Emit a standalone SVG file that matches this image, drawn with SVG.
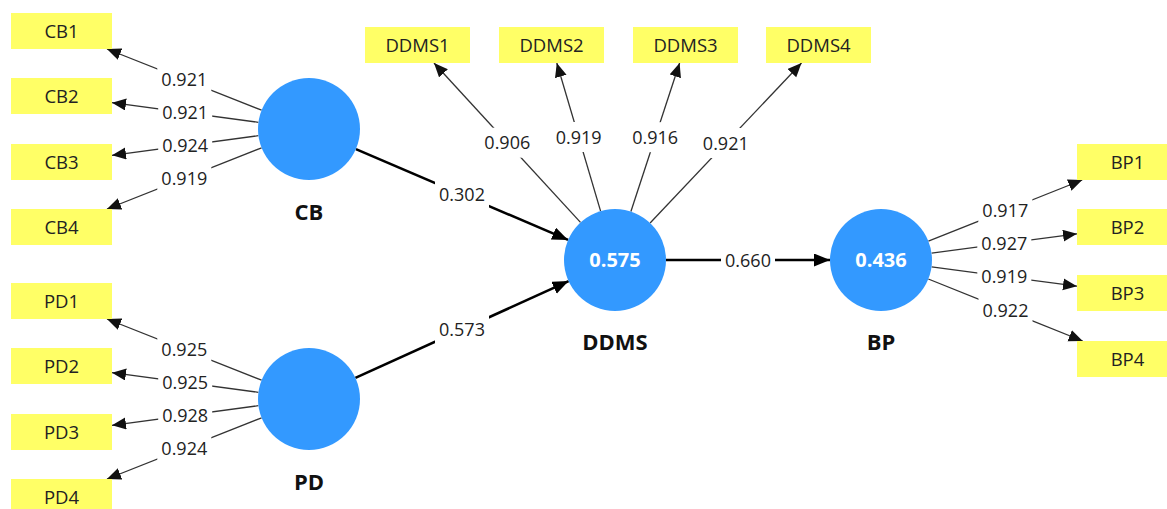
<svg xmlns="http://www.w3.org/2000/svg" width="1167" height="509" viewBox="0 0 1167 509">
<style>
.bg{fill:#ffffff}
.box{fill:#ffff66}
.btxt{font-family:"Open Sans","Liberation Sans",sans-serif;font-size:18.5px;fill:#222;text-anchor:middle}
.lv{fill:#3399ff}
.ltxt{font-family:"Open Sans","Liberation Sans",sans-serif;font-size:22px;font-weight:bold;fill:#111;text-anchor:middle}
.vtxt{font-family:"Open Sans","Liberation Sans",sans-serif;font-size:20px;font-weight:bold;fill:#ffffff;text-anchor:middle}
.ld{stroke:#333;stroke-width:1.3;fill:none;marker-end:url(#ah)}
.st{stroke:#000;stroke-width:2.6;fill:none;marker-end:url(#ahb)}
.lbg{fill:#ffffff}
.etxt{font-family:"Open Sans","Liberation Sans",sans-serif;font-size:18px;fill:#222;text-anchor:middle}
</style>
<defs>
<marker id="ah" markerUnits="userSpaceOnUse" markerWidth="15" markerHeight="13" refX="14" refY="6" orient="auto">
<path d="M0,0 L14,6 L0,12 z" fill="#111"/>
</marker>
<marker id="ahb" markerUnits="userSpaceOnUse" markerWidth="17" markerHeight="14" refX="16" refY="6.5" orient="auto">
<path d="M0,0 L16,6.5 L0,13 z" fill="#000"/>
</marker>
</defs>
<rect class="bg" x="0" y="0" width="1167" height="509"/>

<g id="connectors">
<line class="ld" x1="261.6" y1="110.2" x2="107" y2="49"/>
<line class="ld" x1="258.4" y1="122.3" x2="112" y2="102.7"/>
<line class="ld" x1="258.4" y1="135.7" x2="112" y2="155.3"/>
<line class="ld" x1="261.6" y1="147.8" x2="107" y2="209"/>
<line class="ld" x1="261.6" y1="380.2" x2="107" y2="319"/>
<line class="ld" x1="258.4" y1="392.3" x2="112" y2="372.7"/>
<line class="ld" x1="258.4" y1="405.7" x2="112" y2="425.3"/>
<line class="ld" x1="261.6" y1="417.8" x2="107" y2="479"/>
<line class="ld" x1="580.5" y1="222.4" x2="434" y2="63"/>
<line class="ld" x1="600.6" y1="211.1" x2="556.8" y2="63"/>
<line class="ld" x1="630.9" y1="211.5" x2="679.6" y2="63"/>
<line class="ld" x1="650.1" y1="223" x2="801.5" y2="63"/>
<line class="ld" x1="928.4" y1="241.2" x2="1082.2" y2="180"/>
<line class="ld" x1="931.6" y1="253.2" x2="1077" y2="233.8"/>
<line class="ld" x1="931.6" y1="266.8" x2="1077" y2="286.2"/>
<line class="ld" x1="928.3" y1="279" x2="1082.7" y2="341"/>
<line class="st" x1="355.9" y1="149.1" x2="568.1" y2="239.9"/>
<line class="st" x1="355.4" y1="377.9" x2="568.6" y2="281.1"/>
<line class="st" x1="666" y1="260" x2="830" y2="260"/>

<g id="edge-labels">
<rect class="lbg" x="157.3" y="64.6" width="54" height="30"/><text class="etxt" x="184.3" y="86">0.921</text>
<rect class="lbg" x="158.2" y="97.5" width="54" height="30"/><text class="etxt" x="185.2" y="119">0.921</text>
<rect class="lbg" x="158.2" y="130.5" width="54" height="30"/><text class="etxt" x="185.2" y="152">0.924</text>
<rect class="lbg" x="157.3" y="163.4" width="54" height="30"/><text class="etxt" x="184.3" y="185">0.919</text>
<rect class="lbg" x="157.3" y="334.6" width="54" height="30"/><text class="etxt" x="184.3" y="356">0.925</text>
<rect class="lbg" x="158.2" y="367.5" width="54" height="30"/><text class="etxt" x="185.2" y="389">0.925</text>
<rect class="lbg" x="158.2" y="400.5" width="54" height="30"/><text class="etxt" x="185.2" y="422">0.928</text>
<rect class="lbg" x="157.3" y="433.4" width="54" height="30"/><text class="etxt" x="184.3" y="455">0.924</text>
<rect class="lbg" x="480.3" y="127.7" width="54" height="30"/><text class="etxt" x="507.3" y="149.2">0.906</text>
<rect class="lbg" x="551.7" y="122" width="54" height="30"/><text class="etxt" x="578.7" y="143.5">0.919</text>
<rect class="lbg" x="628.2" y="122.2" width="54" height="30"/><text class="etxt" x="655.2" y="143.7">0.916</text>
<rect class="lbg" x="698.8" y="128" width="54" height="30"/><text class="etxt" x="725.8" y="149.5">0.921</text>
<rect class="lbg" x="978.3" y="195.6" width="54" height="30"/><text class="etxt" x="1005.3" y="217">0.917</text>
<rect class="lbg" x="977.3" y="228.5" width="54" height="30"/><text class="etxt" x="1004.3" y="250">0.927</text>
<rect class="lbg" x="977.3" y="261.5" width="54" height="30"/><text class="etxt" x="1004.3" y="283">0.919</text>
<rect class="lbg" x="978.5" y="295" width="54" height="30"/><text class="etxt" x="1005.5" y="316.5">0.922</text>
<rect class="lbg" x="435" y="179.5" width="54" height="30"/><text class="etxt" x="462" y="201">0.302</text>
<rect class="lbg" x="435" y="314.5" width="54" height="30"/><text class="etxt" x="462" y="336">0.573</text>
<rect class="lbg" x="721" y="245" width="54" height="30"/><text class="etxt" x="748" y="266.5">0.660</text>
</g>
</g>

<g id="CB"><circle class="lv" cx="309" cy="129" r="51"/><text class="ltxt" x="309" y="220">CB</text></g>
<g id="PD"><circle class="lv" cx="309" cy="399" r="51"/><text class="ltxt" x="309" y="490">PD</text></g>
<g id="DDMS"><circle class="lv" cx="615" cy="260" r="51"/><text class="vtxt" x="615" y="267">0.575</text><text class="ltxt" x="615" y="350">DDMS</text></g>
<g id="BP"><circle class="lv" cx="881" cy="260" r="51"/><text class="vtxt" x="881" y="267">0.436</text><text class="ltxt" x="881" y="350">BP</text></g>

<g id="CB1"><rect class="box" x="11" y="13" width="101" height="36"/><text class="btxt" x="61.5" y="37.5">CB1</text></g>
<g id="CB2"><rect class="box" x="11" y="78" width="101" height="36"/><text class="btxt" x="61.5" y="102.5">CB2</text></g>
<g id="CB3"><rect class="box" x="11" y="144" width="101" height="36"/><text class="btxt" x="61.5" y="168.5">CB3</text></g>
<g id="CB4"><rect class="box" x="11" y="209" width="101" height="36"/><text class="btxt" x="61.5" y="233.5">CB4</text></g>
<g id="PD1"><rect class="box" x="11" y="283" width="101" height="36"/><text class="btxt" x="61.5" y="307.5">PD1</text></g>
<g id="PD2"><rect class="box" x="11" y="348" width="101" height="36"/><text class="btxt" x="61.5" y="372.5">PD2</text></g>
<g id="PD3"><rect class="box" x="11" y="414" width="101" height="36"/><text class="btxt" x="61.5" y="438.5">PD3</text></g>
<g id="PD4"><rect class="box" x="11" y="479" width="101" height="36"/><text class="btxt" x="61.5" y="503.5">PD4</text></g>
<g id="DDMS1"><rect class="box" x="365" y="27" width="105" height="36"/><text class="btxt" x="417.5" y="51.5">DDMS1</text></g>
<g id="DDMS2"><rect class="box" x="499" y="27" width="105" height="36"/><text class="btxt" x="551.5" y="51.5">DDMS2</text></g>
<g id="DDMS3"><rect class="box" x="633" y="27" width="105" height="36"/><text class="btxt" x="685.5" y="51.5">DDMS3</text></g>
<g id="DDMS4"><rect class="box" x="766" y="27" width="105" height="36"/><text class="btxt" x="818.5" y="51.5">DDMS4</text></g>
<g id="BP1"><rect class="box" x="1077" y="144" width="101" height="36"/><text class="btxt" x="1127.5" y="168.5">BP1</text></g>
<g id="BP2"><rect class="box" x="1077" y="209" width="101" height="36"/><text class="btxt" x="1127.5" y="233.5">BP2</text></g>
<g id="BP3"><rect class="box" x="1077" y="275" width="101" height="36"/><text class="btxt" x="1127.5" y="299.5">BP3</text></g>
<g id="BP4"><rect class="box" x="1077" y="341" width="101" height="36"/><text class="btxt" x="1127.5" y="365.5">BP4</text></g>
</svg>
